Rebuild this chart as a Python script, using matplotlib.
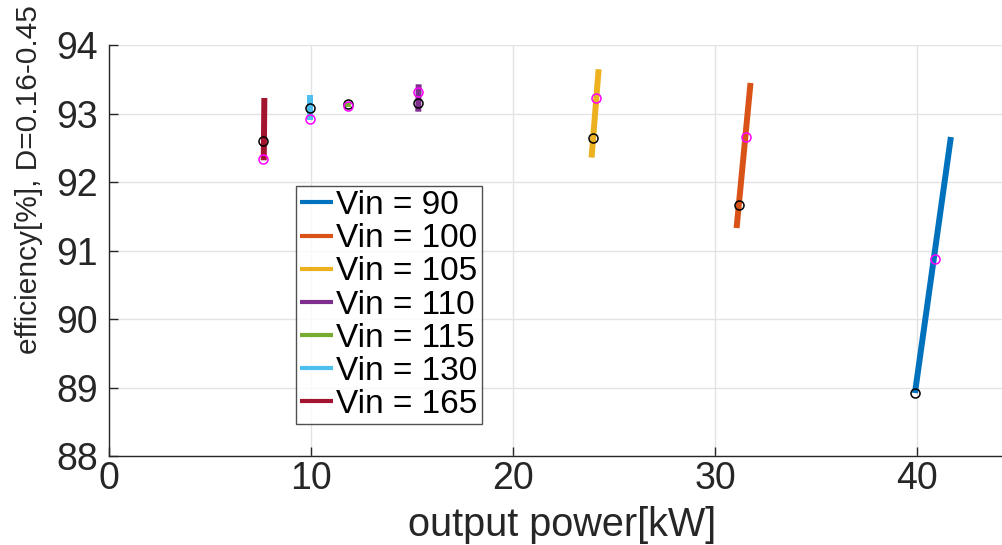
import matplotlib
matplotlib.use("Agg")
import matplotlib.pyplot as plt

# datos
vin = [90, 100, 105, 110, 115, 130, 165]
colores = ['#0072BD', '#D95319', '#EDB120', '#7E2F8E', '#77AC30', '#4DBEEE', '#A2142F']

# extremos de cada recta (potencia [kW], eficiencia [%])
p_ini = [39.90, 31.07, 23.89, 15.31, 11.82, 9.95, 7.66]
p_fin = [41.68, 31.76, 24.24, 15.33, 11.83, 9.95, 7.69]
ef_ini = [88.92, 91.33, 92.36, 93.03, 93.10, 92.91, 92.32]
ef_fin = [92.66, 93.45, 93.65, 93.43, 93.17, 93.27, 93.23]

# marcadores negros
p_neg = [39.90, 31.17, 23.96, 15.31, 11.82, 9.95, 7.60]
ef_neg = [88.92, 91.66, 92.64, 93.15, 93.14, 93.08, 92.60]
# marcadores magenta
p_mag = [40.89, 31.52, 24.12, 15.31, 11.82, 9.95, 7.60]
ef_mag = [90.88, 92.66, 93.23, 93.32, 93.12, 92.93, 92.34]

plt.rcParams['font.family'] = ['Liberation Sans', 'DejaVu Sans']
gris = '#262626'

fig = plt.figure(figsize=(10.03, 5.45), dpi=100)
ax = fig.add_axes([0.1087, 0.1633, 0.8913, 0.7536])

for i, v in enumerate(vin):
    ax.plot([p_ini[i], p_fin[i]], [ef_ini[i], ef_fin[i]], color=colores[i],
            lw=4.3, solid_capstyle='butt', label=f"Vin = {v}", zorder=2)
for i in range(len(vin)):
    ax.plot(p_neg[i], ef_neg[i], 'o', ms=6.5, mfc='none', mec='black', mew=1.1, zorder=3)
    ax.plot(p_mag[i], ef_mag[i], 'o', ms=6.5, mfc='none', mec='#FF00FF', mew=1.1, zorder=3)

ax.set_xlim(0, 44.26)
ax.set_ylim(88, 94)
ax.set_xticks([0, 10, 20, 30, 40])
ax.set_yticks(range(88, 95))

ax.grid(True, color='#E3E3E3', lw=1)
ax.set_axisbelow(True)
for lado in ['top', 'right']:
    ax.spines[lado].set_visible(False)
for lado in ['left', 'bottom']:
    ax.spines[lado].set_color(gris)
    ax.spines[lado].set_linewidth(1)
ax.tick_params(direction='in', length=6.5, width=1, color=gris, labelcolor=gris,
               labelsize=27)
ax.tick_params(axis='x', pad=3.5)
ax.tick_params(axis='y', pad=8)

ax.set_xlabel("output power[kW]", fontsize=28.5, color=gris)
ax.xaxis.set_label_coords(0.507, -0.1217)
ax.set_ylabel("efficiency[%], D=0.16-0.45", fontsize=21.5, color=gris, va='center')
ax.yaxis.set_label_coords(-0.0895, 0.672)

leg = ax.legend(loc='upper left', bbox_to_anchor=(0.2088, 0.657), borderaxespad=0,
                fontsize=24, handlelength=1.0, handletextpad=0.1, labelspacing=0.065,
                borderpad=0.12, frameon=True, fancybox=False)
leg.get_frame().set_edgecolor(gris)
leg.get_frame().set_linewidth(1)
for linea in leg.get_lines():
    linea.set_linewidth(3)

fig.savefig("out.png", dpi=100)
